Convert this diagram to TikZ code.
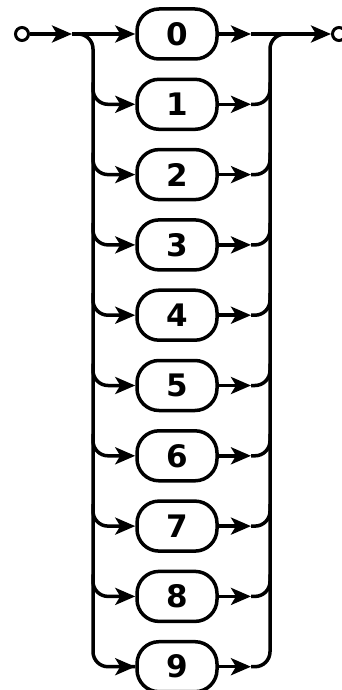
\documentclass[tikz,border=0pt]{standalone}
\usepackage{fontspec}
\setmainfont{DejaVu Sans}
\usetikzlibrary{arrows.meta}
\begin{document}
\begin{tikzpicture}[x=1pt,y=-1pt, line width=3.5pt,
  term/.style={draw, rounded corners=22pt, minimum width=80pt, minimum height=50pt,
    inner sep=0pt, font=\fontsize{31}{31}\selectfont\bfseries},
  tipped/.style={-{Stealth[length=20pt,width=17pt,inset=5pt]}},
  rc/.style={rounded corners=15pt},
  dot/.style={circle, draw, minimum size=13pt, inner sep=0pt, line width=3pt}]
\useasboundingbox (0,0) rectangle (342,690);
\node[dot] (s) at (22,34) {};
\node[dot] (e) at (339,34) {};
\coordinate (sa) at (72,34);
\coordinate (lt) at (93,34);
\coordinate (rt) at (270,34);
\coordinate (ea) at (290,34);
\foreach \i in {0,...,9}{
  \node[term] (b\i) at (177,{34+70.3*\i}) {\i};
  \coordinate (r\i) at (251,{34+70.3*\i});
  \coordinate (lv\i) at (93,{34+70.3*\i-22});
  \coordinate (rv\i) at (270,{34+70.3*\i-22});
  \draw[tipped] (b\i.east) -- (r\i);
}
\draw[tipped] (s) -- (sa);
\draw[tipped] (sa) -- (b0.west);
\draw[rc] (sa) -- (lt) |- (b9.west);
\draw[tipped] (b9.west) ++(-20,0) -- (b9.west);
\foreach \i in {1,...,8}{
  \draw[rc,tipped] (lv\i) |- (b\i.west);
  \draw[rc] (r\i) -| (rv\i);
}
\draw[rc] (r9) -| (rt) -- (ea);
\draw (r0) -- (ea);
\draw[tipped] (ea) -- (e);
\end{tikzpicture}
\end{document}
